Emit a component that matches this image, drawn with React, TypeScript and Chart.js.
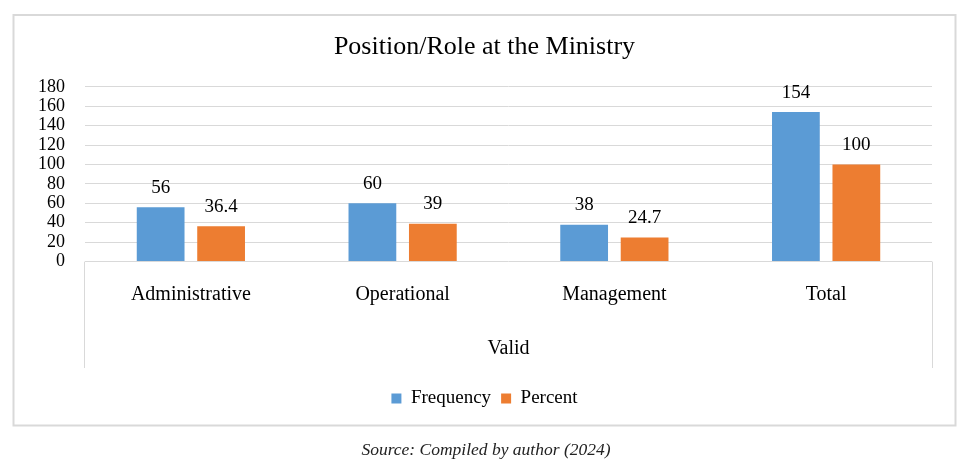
import React, { useEffect, useRef } from "react";
import { Chart, registerables } from "chart.js";

Chart.register(...registerables);

const categories = ["Administrative", "Operational", "Management", "Total"];
const frequency = [56, 60, 38, 154];
const percent = [36.4, 39, 24.7, 100];
const seriesNames = ["Frequency", "Percent"];
const axisGroupLabel = "Valid";
const chartTitle = "Position/Role at the Ministry";
const sourceNote = "Source: Compiled by author (2024)";

const FONT = "'Liberation Serif', 'Times New Roman', serif";
const GRID = "#d9d9d9";

const framePlugin = {
  id: "frame",
  beforeDraw(chart: any) {
    const ctx = chart.ctx;
    ctx.save();
    ctx.strokeStyle = GRID;
    ctx.lineWidth = 2;
    ctx.strokeRect(13.5, 15, 942, 410.5);
    ctx.restore();
  },
  afterDraw(chart: any) {
    const ctx = chart.ctx;
    const a = chart.chartArea;
    ctx.save();
    ctx.strokeStyle = GRID;
    ctx.lineWidth = 1;
    ctx.beginPath();
    ctx.moveTo(Math.round(a.left) - 0.5, a.bottom);
    ctx.lineTo(Math.round(a.left) - 0.5, 368);
    ctx.moveTo(Math.round(a.right) + 0.5, a.bottom);
    ctx.lineTo(Math.round(a.right) + 0.5, 368);
    ctx.stroke();
    ctx.restore();
  },
  afterDatasetsDraw(chart: any) {
    const ctx = chart.ctx;
    ctx.save();
    ctx.font = `19px ${FONT}`;
    ctx.fillStyle = "#000";
    ctx.textAlign = "center";
    ctx.textBaseline = "middle";
    chart.data.datasets.forEach((ds: any, i: number) => {
      const meta = chart.getDatasetMeta(i);
      meta.data.forEach((bar: any, j: number) => {
        ctx.fillText(String(ds.data[j]), bar.x, bar.y - 19.5);
      });
    });
    ctx.restore();
  },
};

export default function App() {
  const ref = useRef<HTMLCanvasElement>(null);
  useEffect(() => {
    const chart = new Chart(ref.current!, {
      type: "bar",
      data: {
        labels: categories,
        datasets: [
          { label: seriesNames[0], data: frequency, backgroundColor: "#5b9bd5", categoryPercentage: 0.571, barPercentage: 0.79 },
          { label: seriesNames[1], data: percent, backgroundColor: "#ed7d31", categoryPercentage: 0.571, barPercentage: 0.79 },
        ],
      },
      options: {
        animation: false,
        responsive: false,
        devicePixelRatio: 1,
        layout: { padding: { left: 37, right: 40, top: 0, bottom: 46 } },
        scales: {
          y: {
            min: 0,
            max: 180,
            afterFit: (s: any) => {
              s.width = 48;
            },
            ticks: { stepSize: 20, autoSkip: false, padding: 20, color: "#000", font: { family: FONT, size: 18, lineHeight: 1 } },
            grid: { color: GRID, drawTicks: false },
            border: { display: false },
          },
          x: {
            ticks: { padding: 20.8, color: "#000", font: { family: FONT, size: 20 } },
            grid: { display: false, drawTicks: false },
            border: { display: false },
            title: { display: true, text: axisGroupLabel, color: "#000", font: { family: FONT, size: 20 }, padding: { top: 9.5, bottom: 18.3 } },
          },
        },
        plugins: {
          title: { display: true, text: chartTitle, color: "#000", font: { family: FONT, size: 26, weight: "normal" }, padding: { top: 31.8, bottom: 23.8 } },
          legend: {
            position: "bottom",
            labels: { boxWidth: 10, boxHeight: 10, padding: 10, color: "#000", font: { family: FONT, size: 19 } },
          },
          tooltip: { enabled: false },
        },
      },
      plugins: [framePlugin],
    });
    return () => chart.destroy();
  }, []);
  return (
    <div style={{ position: "fixed", left: 0, top: 0, width: 972, height: 464, background: "#fff" }}>
      <canvas ref={ref} width={972} height={464} style={{ display: "block" }} />
      <div
        style={{
          position: "absolute",
          left: 0,
          width: 972,
          top: 439,
          textAlign: "center",
          fontFamily: FONT,
          fontStyle: "italic",
          fontSize: 17.5,
          lineHeight: "20px",
          color: "#222",
        }}
      >
        {sourceNote}
      </div>
    </div>
  );
}
